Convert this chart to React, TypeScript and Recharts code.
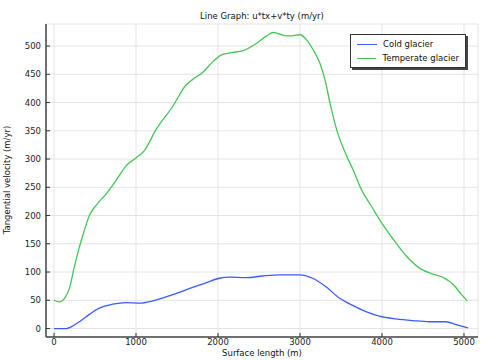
import { CartesianGrid, Line, LineChart, XAxis, YAxis } from 'recharts'

// surface length (m) and tangential velocity (m/yr)
const coldX = [0, 150, 207, 309, 431, 553, 715, 878, 1041, 1203, 1366, 1528, 1691, 1854, 2016, 2138, 2341, 2545, 2748, 2992, 3154, 3317, 3480, 3642, 3805, 3967, 4171, 4374, 4577, 4780, 4902, 5050]
const coldV = [0, 0, 3, 12, 25, 36, 43, 46, 45, 49, 56, 64, 73, 81, 89, 91, 90, 93, 95, 95, 89, 74, 54, 41, 30, 22, 17, 14, 12, 12, 7, 1]

const tempX = [0, 65, 126, 187, 248, 309, 370, 431, 512, 634, 756, 878, 1000, 1102, 1244, 1447, 1610, 1691, 1813, 1935, 2037, 2146, 2309, 2472, 2594, 2675, 2797, 2878, 3000, 3081, 3162, 3244, 3305, 3366, 3447, 3549, 3650, 3752, 3874, 4000, 4142, 4305, 4467, 4630, 4752, 4874, 4976, 5040]
const tempV = [50, 47, 53, 71, 109, 144, 174, 200, 218, 238, 262, 288, 302, 315, 352, 393, 431, 441, 453, 472, 484, 488, 492, 505, 518, 524, 519, 518, 520, 511, 493, 469, 440, 399, 352, 312, 280, 245, 216, 186, 157, 127, 106, 96, 90, 77, 59, 49]

const xTicks = [0, 1000, 2000, 3000, 4000, 5000]
const yTicks = [0, 50, 100, 150, 200, 250, 300, 350, 400, 450, 500]

const seriesNames = ['Cold glacier', 'Temperate glacier']
const seriesColors = ['#3a5cff', '#46c458']

const coldData = coldX.map((x, i) => ({ x, v: coldV[i] }))
const tempData = tempX.map((x, i) => ({ x, v: tempV[i] }))

const font = '"DejaVu Sans", sans-serif'
const axisColor = '#444'
const tickStyle = { fontSize: 8.5, fill: '#222', fontFamily: font }
const textStyle = { fontFamily: font, fontSize: 8.5, color: '#111', whiteSpace: 'nowrap' as const, lineHeight: '10px' }

export default function App() {
  return (
    <div style={{ position: 'absolute', left: 0, top: 0, width: 483, height: 360, background: '#fff' }}>
      <LineChart width={483} height={360} margin={{ top: 24, right: 5, left: 0, bottom: 0 }}>
        <CartesianGrid stroke="#e4e4e4" strokeWidth={1} xAxisId="b" yAxisId="l" />
        <XAxis
          xAxisId="b"
          dataKey="x"
          type="number"
          domain={[-98, 5171]}
          ticks={xTicks}
          allowDataOverflow
          height={23}
          tickSize={-4}
          tickMargin={6}
          tick={tickStyle}
          axisLine={{ stroke: axisColor, strokeWidth: 1.5 }}
          tickLine={{ stroke: '#333' }}
        />
        <XAxis
          xAxisId="t"
          orientation="top"
          dataKey="x"
          type="number"
          domain={[-98, 5171]}
          ticks={xTicks}
          allowDataOverflow
          height={0}
          tickSize={-4}
          tickFormatter={() => ''}
          axisLine={{ stroke: axisColor, strokeWidth: 1.5 }}
          tickLine={{ stroke: '#333' }}
        />
        <YAxis
          yAxisId="l"
          type="number"
          domain={[-15, 539]}
          ticks={yTicks}
          allowDataOverflow
          width={46}
          tickSize={-4}
          tickMargin={9}
          tick={tickStyle}
          axisLine={{ stroke: axisColor, strokeWidth: 1.5 }}
          tickLine={{ stroke: '#333' }}
        />
        <YAxis
          yAxisId="r"
          orientation="right"
          type="number"
          domain={[-15, 539]}
          ticks={yTicks}
          allowDataOverflow
          width={0}
          tickSize={-4}
          tickFormatter={() => ''}
          axisLine={{ stroke: axisColor, strokeWidth: 1.5 }}
          tickLine={{ stroke: '#333' }}
        />
        <Line
          xAxisId="b"
          yAxisId="l"
          data={coldData}
          dataKey="v"
          name={seriesNames[0]}
          type="monotone"
          stroke={seriesColors[0]}
          strokeWidth={1.3}
          dot={false}
          isAnimationActive={false}
        />
        <Line
          xAxisId="b"
          yAxisId="l"
          data={tempData}
          dataKey="v"
          name={seriesNames[1]}
          type="monotone"
          stroke={seriesColors[1]}
          strokeWidth={1.3}
          dot={false}
          isAnimationActive={false}
        />
      </LineChart>

      <div style={{ ...textStyle, position: 'absolute', left: 46, width: 432, top: 11, textAlign: 'center' }}>
        Line Graph: u*tx+v*ty (m/yr)
      </div>

      <div style={{ ...textStyle, position: 'absolute', left: 46, width: 432, top: 348, textAlign: 'center' }}>
        Surface length (m)
      </div>

      <div
        style={{
          ...textStyle,
          position: 'absolute',
          left: 7,
          top: 180,
          transform: 'translate(-50%, -50%) rotate(-90deg)',
        }}
      >
        Tangential velocity (m/yr)
      </div>

      <div
        style={{
          ...textStyle,
          position: 'absolute',
          left: 350,
          top: 34,
          width: 116,
          height: 34,
          boxSizing: 'border-box',
          border: '1px solid #333',
          boxShadow: '2px 2px 0 #444',
          background: '#fff',
          padding: '2px 6px',
        }}
      >
        {seriesNames.map((name, i) => (
          <div key={name} style={{ display: 'flex', alignItems: 'center', height: 14 }}>
            <span
              style={{
                display: 'inline-block',
                width: 20,
                height: 1,
                background: seriesColors[i],
                marginRight: 6,
              }}
            />
            {name}
          </div>
        ))}
      </div>
    </div>
  )
}
